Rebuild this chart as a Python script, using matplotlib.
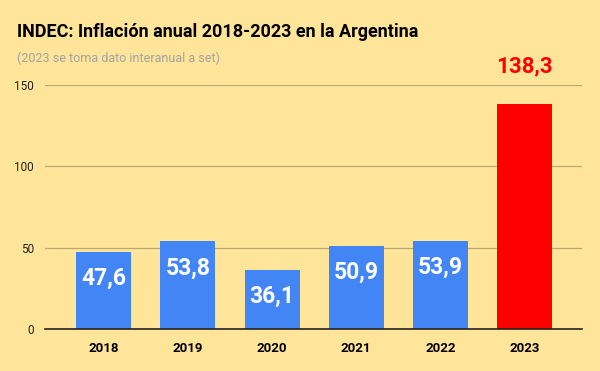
import matplotlib.pyplot as plt

plt.rcParams['font.family'] = ['Roboto', 'DejaVu Sans']

years = ['2018', '2019', '2020', '2021', '2022', '2023']
inflacion = [47.6, 53.8, 36.1, 50.9, 53.9, 138.3]
etiquetas = ['47,6', '53,8', '36,1', '50,9', '53,9', '138,3']
yticks = [0, 50, 100, 150]

bg = '#FFE599'
colores = ['#4285F4'] * 5 + ['#FF0000']

fig = plt.figure(figsize=(6, 3.71), dpi=100, facecolor=bg)
ax = fig.add_axes([0.075, 0.1132, 0.895, 0.658])
ax.set_facecolor(bg)

x = range(len(years))
bars = ax.bar(x, inflacion, width=0.653, color=colores, zorder=3)

for b, v, lab in zip(bars, inflacion, etiquetas):
    cx = b.get_x() + b.get_width() / 2
    if v > 100:
        ax.annotate(lab, (cx, v), xytext=(0, 27), textcoords='offset points',
                    ha='center', va='center', color='#FF0000',
                    fontsize=16, fontweight='bold', annotation_clip=False)
    else:
        ax.annotate(lab, (cx, v), xytext=(0, -19), textcoords='offset points',
                    ha='center', va='center', color='white',
                    fontsize=16.5, fontweight='bold')

ax.set_xlim(-0.695, 5.68)
ax.set_ylim(0, 150)
ax.set_xticks(list(x))
ax.set_xticklabels(years, fontsize=9.5, fontweight='bold')
ax.set_yticks(yticks)
ax.set_yticklabels([str(t) for t in yticks], fontsize=8.5, color='#222222')
ax.tick_params(length=0)
ax.tick_params(axis='x', pad=9)
ax.tick_params(axis='y', pad=8)

for s in ['top', 'right', 'left']:
    ax.spines[s].set_visible(False)
ax.spines['bottom'].set_color('#222222')
ax.spines['bottom'].set_linewidth(1.2)
ax.spines['bottom'].set_zorder(4)

ax.yaxis.grid(True, color='#B8A878', linewidth=0.9, zorder=0)
ax.set_axisbelow(True)

fig.text(0.028, 0.9, 'INDEC: Inflación anual 2018-2023 en la Argentina',
         fontsize=13, fontweight='bold', color='black', ha='left', va='baseline')
fig.text(0.028, 0.832, '(2023 se toma dato interanual a set)',
         fontsize=9, color='#A3A3A3', ha='left', va='baseline')

fig.savefig('out.png', dpi=100, facecolor=bg)
